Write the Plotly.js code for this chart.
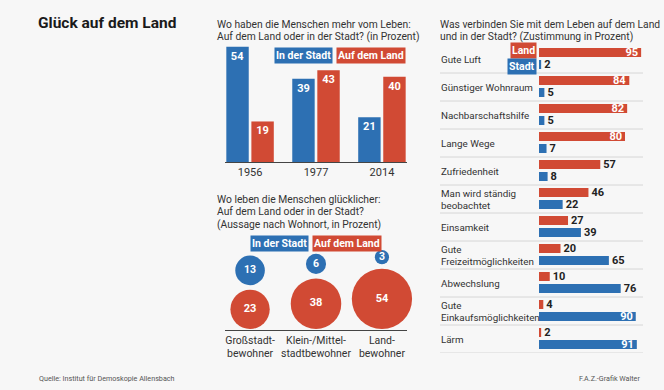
<!DOCTYPE html>
<html><head><meta charset="utf-8">
<script src="https://cdn.plot.ly/plotly-3.0.1.min.js"></script>
<style>html,body{margin:0;padding:0;background:#f7f7f7}#chart{width:664px;height:390px}</style>
</head><body><div id="chart"></div>
<script>
// ---- data ----
var years = ['1956', '1977', '2014'];
var lebenStadt = [54, 39, 21];
var lebenLand = [19, 43, 40];

var wohnort = ['Großstadt-<br>bewohner', 'Klein-/Mittel-<br>stadtbewohner', 'Land-<br>bewohner'];
var gluecklichStadt = [13, 6, 3];
var gluecklichLand = [23, 38, 54];

var aspekte = ['Gute Luft', 'Günstiger Wohnraum', 'Nachbarschaftshilfe', 'Lange Wege', 'Zufriedenheit',
  'Man wird ständig<br>beobachtet', 'Einsamkeit', 'Gute<br>Freizeitmöglichkeiten', 'Abwechslung',
  'Gute<br>Einkaufsmöglichkeiten', 'Lärm'];
var zustLand = [95, 84, 82, 80, 57, 46, 27, 20, 10, 4, 2];
var zustStadt = [2, 5, 5, 7, 8, 22, 39, 65, 76, 90, 91];

// ---- style ----
var BLUE = '#2d70b3', RED = '#d14a34', TXT = '#333333';
var FONT = 'Roboto, "Liberation Sans", sans-serif';
var W = 664, H = 390;
function fx(px) { return px / W; }
function fy(py) { return 1 - py / H; }

var idx3 = years.map(function (d, i) { return i; });
var rows = aspekte.map(function (d, i) { return i; });
var BOLDW = {color: '#fff', size: 11, family: FONT, weight: 'bold'};

var traces = [];
// top-left bars
traces.push({type: 'bar', x: idx3, y: lebenStadt, xaxis: 'x', yaxis: 'y', offset: -0.36, width: 0.34,
  marker: {color: BLUE}, text: lebenStadt.map(String), textposition: 'inside', insidetextanchor: 'end',
  textangle: 0, textfont: BOLDW, constraintext: 'none', hoverinfo: 'skip'});
traces.push({type: 'bar', x: idx3, y: lebenLand, xaxis: 'x', yaxis: 'y', offset: 0.02, width: 0.34,
  marker: {color: RED}, text: lebenLand.map(String), textposition: 'inside', insidetextanchor: 'end',
  textangle: 0, textfont: BOLDW, constraintext: 'none', hoverinfo: 'skip'});

// bubbles (diameter ~ sqrt of value)
var K = 8.2, GAP = 4.5;
var dLand = gluecklichLand.map(function (v) { return K * Math.sqrt(v); });
var dStadt = gluecklichStadt.map(function (v) { return K * Math.sqrt(v); });
var yLand = dLand.map(function (d) { return d / 2 + 1; });
var yStadt = dStadt.map(function (d, i) { return dLand[i] + 1 + GAP + d / 2; });
traces.push({type: 'scatter', mode: 'markers+text', x: idx3, y: yLand, xaxis: 'x3', yaxis: 'y3',
  marker: {size: dLand, color: RED, line: {width: 0}, opacity: 1}, text: gluecklichLand.map(String),
  textposition: 'middle center', textfont: BOLDW, cliponaxis: false, hoverinfo: 'skip'});
traces.push({type: 'scatter', mode: 'markers+text', x: idx3, y: yStadt, xaxis: 'x3', yaxis: 'y3',
  marker: {size: dStadt, color: BLUE, line: {width: 0}, opacity: 1}, text: gluecklichStadt.map(String),
  textposition: 'middle center', textfont: {color: '#fff', size: 10.5, family: FONT, weight: 'bold'},
  cliponaxis: false, hoverinfo: 'skip'});

// right horizontal bars
function pos(v) { return v >= 80 ? 'inside' : 'outside'; }
var INF = {color: '#fff', size: 11, family: FONT, weight: 'bold'};
var OUTF = {color: '#222', size: 11, family: FONT, weight: 'bold'};
traces.push({type: 'bar', orientation: 'h', x: zustLand, y: rows, xaxis: 'x2', yaxis: 'y2', offset: 0.108, width: 0.32,
  marker: {color: RED}, text: zustLand.map(String), textposition: zustLand.map(pos), insidetextanchor: 'end',
  textangle: 0, insidetextfont: INF, outsidetextfont: OUTF, constraintext: 'none', cliponaxis: false, hoverinfo: 'skip'});
traces.push({type: 'bar', orientation: 'h', x: zustStadt, y: rows, xaxis: 'x2', yaxis: 'y2', offset: 0.536, width: 0.32,
  marker: {color: BLUE}, text: zustStadt.map(String), textposition: zustStadt.map(pos), insidetextanchor: 'end',
  textangle: 0, insidetextfont: INF, outsidetextfont: OUTF, constraintext: 'none', cliponaxis: false, hoverinfo: 'skip'});

var ann = [];
function txt(s, x, y, size, opts) {
  var a = {text: s, xref: 'paper', yref: 'paper', x: fx(x), y: fy(y), xanchor: 'left', yanchor: 'middle',
    showarrow: false, font: {size: size, color: TXT, family: FONT}};
  for (var k in opts) a[k] = opts[k];
  ann.push(a);
}
txt('Glück auf dem Land', 36, 23, 15.5, {font: {size: 15.5, color: '#1a1a1a', family: FONT, weight: 'bold'}});
txt('Wo haben die Menschen mehr vom Leben:', 215, 25, 10.3);
txt('Auf dem Land oder in der Stadt? (in Prozent)', 215, 36.5, 10.3);
txt('Wo leben die Menschen glücklicher:', 215, 200, 10.3);
txt('Auf dem Land oder in der Stadt?', 215, 212, 10.3);
txt('(Aussage nach Wohnort, in Prozent)', 215, 224.5, 10.3);
txt('Was verbinden Sie mit dem Leben auf dem Land', 438, 25, 10.3);
txt('und in der Stadt? (Zustimmung in Prozent)', 438, 36.5, 10.3);
txt('Quelle: Institut für Demoskopie Allensbach', 37, 378, 7.2, {font: {size: 7.2, color: '#555', family: FONT}});
txt('F.A.Z.-Grafik Walter', 642, 378, 7.2, {xanchor: 'right', font: {size: 7.2, color: '#555', family: FONT}});

function box(s, x, y, color, anchor) {
  ann.push({text: s, xref: 'paper', yref: 'paper', x: fx(x), y: fy(y), xanchor: anchor, yanchor: 'middle',
    showarrow: false, bgcolor: color, borderpad: 1,
    font: {size: 10.5, color: '#fff', family: FONT, weight: 'bold'}});
}
box('In der Stadt', 274, 55.5, BLUE, 'left');
box('Auf dem Land', 336, 55.5, RED, 'left');
box('In der Stadt', 250, 243.5, BLUE, 'left');
box('Auf dem Land', 312, 243.5, RED, 'left');
box('Land', 537, 51, RED, 'right');
box('Stadt', 537, 66, BLUE, 'right');

// row labels
aspekte.forEach(function (lab, i) {
  var parts = lab.split('<br>');
  parts.forEach(function (p, j) {
    var shift = (parts.length === 1) ? 0 : (j === 0 ? 6 : -6);
    ann.push({text: p, xref: 'paper', yref: 'y2', x: fx(439), y: i + 0.5, yshift: shift,
      xanchor: 'left', yanchor: 'middle', showarrow: false,
      font: {size: 9.8, color: TXT, family: FONT}});
  });
});

var shapes = [];
rows.forEach(function (i) {
  shapes.push({type: 'line', xref: 'paper', yref: 'y2', x0: fx(440), x1: fx(643), y0: i + 1, y1: i + 1,
    line: {color: '#d6d6d6', width: 1}, layer: 'below'});
});

var layout = {
  width: W, height: H, margin: {l: 0, r: 0, t: 0, b: 0},
  paper_bgcolor: '#f7f7f7', plot_bgcolor: 'rgba(0,0,0,0)',
  font: {family: FONT, color: TXT, size: 10.5},
  showlegend: false,
  xaxis: {domain: [fx(225), fx(407)], range: [-0.38, 2.38], tickvals: idx3, ticktext: years,
    showline: true, linecolor: '#444', linewidth: 1, ticks: '', showgrid: false, zeroline: false,
    tickangle: 0, tickfont: {size: 11, color: TXT}, fixedrange: true},
  yaxis: {domain: [fy(162), fy(34)], range: [0, 60], visible: false, fixedrange: true},
  xaxis3: {domain: [fx(225), fx(407)], range: [-0.38, 2.38], tickvals: idx3, ticktext: wohnort,
    showline: true, linecolor: '#444', linewidth: 1, ticks: '', showgrid: false, zeroline: false,
    tickangle: 0, tickfont: {size: 10.5, color: TXT}, anchor: 'y3', fixedrange: true},
  yaxis3: {domain: [fy(330), fy(240)], range: [0, 90], visible: false, anchor: 'x3', fixedrange: true},
  xaxis2: {domain: [fx(539), fx(646.5)], range: [0, 100], visible: false, anchor: 'y2', fixedrange: true},
  yaxis2: {domain: [fy(353), fy(45)], range: [11, 0], visible: false, anchor: 'x2', fixedrange: true},
  annotations: ann, shapes: shapes
};
Plotly.newPlot('chart', traces, layout, {displayModeBar: false, staticPlot: true});
</script></body></html>
